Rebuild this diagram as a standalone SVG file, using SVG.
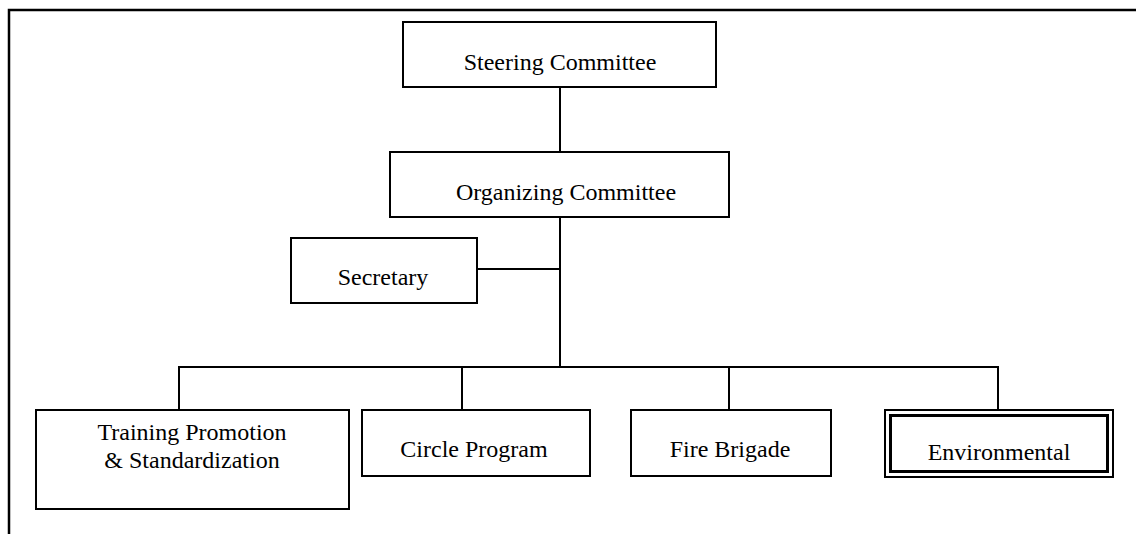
<svg xmlns="http://www.w3.org/2000/svg" width="1136" height="534" viewBox="0 0 1136 534">
<style>
.box{fill:#fff;stroke:#000;stroke-width:2}
.lbl{font-family:"Liberation Serif","Times New Roman",serif;font-size:24px;fill:#000;text-anchor:middle}
.con{fill:none;stroke:#000;stroke-width:2}
</style>
<rect width="1136" height="534" fill="#fff"/>
<g id="frame">
<path d="M9,534 V10 H1136" fill="none" stroke="#000" stroke-width="2.5"/>
</g>
<g id="connectors">
<line class="con" x1="560" y1="87" x2="560" y2="152"/>
<line class="con" x1="560" y1="217" x2="560" y2="367"/>
<line class="con" x1="477" y1="269" x2="560" y2="269"/>
<path class="con" d="M179,410 V367 H998 V410"/>
<line class="con" x1="462" y1="367" x2="462" y2="410"/>
<line class="con" x1="729" y1="367" x2="729" y2="410"/>
</g>
<g id="steering">
<rect class="box" x="403" y="22" width="313" height="65"/>
<text class="lbl" x="560" y="70">Steering Committee</text>
</g>
<g id="organizing">
<rect class="box" x="390" y="152" width="339" height="65"/>
<text class="lbl" x="566" y="200">Organizing Committee</text>
</g>
<g id="secretary">
<rect class="box" x="291" y="238" width="186" height="65"/>
<text class="lbl" x="383" y="285">Secretary</text>
</g>
<g id="training">
<rect class="box" x="36" y="410" width="313" height="99"/>
<text class="lbl" x="192" y="440">Training Promotion</text>
<text class="lbl" x="192" y="468">&amp; Standardization</text>
</g>
<g id="circle">
<rect class="box" x="362" y="410" width="228" height="66"/>
<text class="lbl" x="474" y="457">Circle Program</text>
</g>
<g id="fire">
<rect class="box" x="631" y="410" width="200" height="66"/>
<text class="lbl" x="730" y="457">Fire Brigade</text>
</g>
<g id="environmental">
<rect class="box" x="885" y="410" width="228" height="67"/>
<rect fill="none" stroke="#000" stroke-width="3" x="890.5" y="415.5" width="217" height="56"/>
<text class="lbl" x="999" y="460">Environmental</text>
</g>
</svg>
